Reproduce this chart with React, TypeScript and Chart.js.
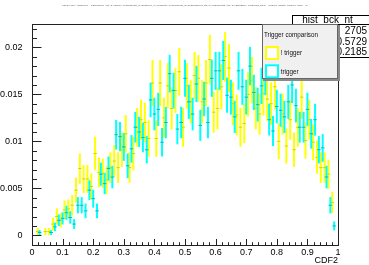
import React, { useEffect, useRef } from "react";
import { Chart, registerables } from "chart.js";

Chart.register(...registerables);

// ---------------- data ----------------
const BINS = 80;

// "! trigger" (yellow), bin centres (k + 0.5) / 80
const NOT_TRIGGER = [
  0, 0.0004, 0, 0.0004, 0.0004, 0.0012, 0.002, 0.0016, 0.0027, 0.0028,
  0.0032, 0.0048, 0.0071, 0.006, 0.006, 0.0052, 0.0087, 0.0067, 0.0066, 0.0059,
  0.0072, 0.0079, 0.0072, 0.0091, 0.0108, 0.0072, 0.0087, 0.0115, 0.0123, 0.012,
  0.0103, 0.0162, 0.0103, 0.0162, 0.0125, 0.0159, 0.0135, 0.0154, 0.0174, 0.0115,
  0.0159, 0.0142, 0.017, 0.0167, 0.0142, 0.0162, 0.0187, 0.0131, 0.0135, 0.0158,
  0.019, 0.0178, 0.014, 0.0128, 0.0115, 0.0119, 0.015, 0.0165, 0.0135, 0.0129,
  0.0151, 0.0145, 0.014, 0.0158, 0.01, 0.0129, 0.0095, 0.0123, 0.0091, 0.0115,
  0.0147, 0.0101, 0.0123, 0.0099, 0.0083, 0.0072, 0.0072, 0.0065, 0.0035, 0,
];

// "trigger" (cyan), drawn at k / 80
const TRIGGER = [
  0, 0, 0.0003, 0, 0, 0.0003, 0.0009, 0.0016, 0.0018, 0.0024,
  0.0019, 0.0012, 0.0032, 0.0032, 0.0026, 0.0048, 0.0039, 0.0026, 0.0065, 0.0055,
  0.0071, 0.0062, 0.0107, 0.0105, 0.0094, 0.0074, 0.0092, 0.0115, 0.011, 0.0104,
  0.0091, 0.0144, 0.0129, 0.0134, 0.0099, 0.012, 0.0172, 0.0154, 0.0113, 0.012,
  0.0167, 0.0142, 0.0129, 0.0161, 0.0117, 0.0145, 0.012, 0.0167, 0.0175, 0.0175,
  0.0186, 0.0149, 0.0147, 0.0126, 0.0175, 0.0158, 0.0147, 0.018, 0.0152, 0.0139,
  0.0159, 0.0169, 0.0123, 0.0111, 0.0137, 0.0133, 0.0126, 0.0142, 0.016, 0.0138,
  0.0115, 0.0115, 0.0134, 0.0108, 0.0123, 0.0091, 0.0093, 0.0062, 0.0032, 0.001,
];

// effective entries used for the Poisson error bars of the normalised histograms
const ENTRIES_NOT_TRIGGER = 2705;
const ENTRIES_TRIGGER = 4300;

const X_TICKS = [0, 0.1, 0.2, 0.3, 0.4, 0.5, 0.6, 0.7, 0.8, 0.9, 1];
const X_TICK_LABELS = ["0", "0.1", "0.2", "0.3", "0.4", "0.5", "0.6", "0.7", "0.8", "0.9", "1"];
const X_MINOR_STEP = 0.02;
const Y_TICKS = [0, 0.005, 0.01, 0.015, 0.02];
const Y_TICK_LABELS = ["0", "0.005", "0.01", "0.015", "0.02"];
const Y_MINOR_STEP = 0.001;
const Y_MIN = -0.00103;
const Y_MAX = 0.02248;

const X_TITLE = "CDF2";
const PLOT_TITLE =
  "CDF2 {(nJet>=2)&&(nLep==1)&&(abs(lep_eta)<2.4)&&(lep_pt>25)&&(met_pt>30)&&(mT_W>40)&&(jet1_pt>30)&&(jet2_pt>30)&&(abs(jet1_eta)<2.4)&&(abs(jet2_eta)<2.4)&&(nBtag>=1)&&(pass_filters==1)&&(evt_weight!=0)&&(run_good==1)}";

const STATS_NAME = "hist_bck_nt";
const STATS_LABELS = ["Entries", "Mean", "Std Dev"];
const STATS_VALUES = ["2705", "0.5729", "0.2185"];

const LEGEND_HEADER = "Trigger comparison";
const LEGEND_LABELS = ["! trigger", "trigger"];

const YELLOW = "#ffff00";
const CYAN = "#00ffff";
const FONT = "'Liberation Sans', Arial, Helvetica, sans-serif";

// ---------------- plugin ----------------
const rootPlugin = {
  id: "rootStyle",
  beforeDatasetDraw(chart: any, args: any) {
    const ds = chart.data.datasets[args.index];
    const ys = chart.scales.y;
    const { ctx, chartArea: a } = chart;
    ctx.save();
    ctx.beginPath();
    ctx.rect(a.left, a.top, a.right - a.left, a.bottom - a.top);
    ctx.clip();
    ctx.strokeStyle = ds.barColor;
    ctx.lineWidth = 2;
    args.meta.data.forEach((el: any, i: number) => {
      const raw = ds.data[i];
      if (raw.y == null) return;
      const top = ys.getPixelForValue(raw.y + raw.err);
      const bot = ys.getPixelForValue(raw.y - raw.err);
      ctx.beginPath();
      ctx.moveTo(el.x, top);
      ctx.lineTo(el.x, bot);
      ctx.stroke();
    });
    ctx.restore();
  },
  afterDatasetsDraw(chart: any) {
    const { ctx, chartArea: a } = chart;
    const xs = chart.scales.x;
    const ys = chart.scales.y;
    ctx.save();
    ctx.strokeStyle = "#222";
    ctx.lineWidth = 1;
    // frame
    ctx.strokeRect(Math.round(a.left) + 0.5, Math.round(a.top) + 0.5, Math.round(a.right - a.left), Math.round(a.bottom - a.top));
    // x ticks (inward)
    ctx.beginPath();
    const bottom = Math.round(a.bottom) + 0.5;
    for (let i = 0; i <= Math.round(1 / X_MINOR_STEP); i++) {
      const v = i * X_MINOR_STEP;
      const major = X_TICKS.some((t) => Math.abs(t - v) < 1e-9);
      const px = Math.round(xs.getPixelForValue(v)) + 0.5;
      ctx.moveTo(px, bottom);
      ctx.lineTo(px, bottom - (major ? 6.5 : 3.3));
    }
    // y ticks (inward)
    const left = Math.round(a.left) + 0.5;
    for (let i = -1; i <= 22; i++) {
      const v = i * Y_MINOR_STEP;
      if (v < Y_MIN || v > Y_MAX) continue;
      const major = Y_TICKS.some((t) => Math.abs(t - v) < 1e-9);
      const py = Math.round(ys.getPixelForValue(v)) + 0.5;
      ctx.moveTo(left, py);
      ctx.lineTo(left + (major ? 9 : 4.5), py);
    }
    ctx.stroke();
    ctx.restore();
  },
  afterDraw(chart: any) {
    const { ctx } = chart;
    ctx.save();
    // tiny plot title
    ctx.font = `2.4px ${FONT}`;
    ctx.fillStyle = "#555";
    ctx.textBaseline = "middle";
    const w = ctx.measureText(PLOT_TITLE).width;
    ctx.save();
    ctx.translate(62, 5.5);
    ctx.scale(246 / w, 1);
    ctx.fillText(PLOT_TITLE, 0, 0);
    ctx.restore();

    // stats box
    ctx.fillStyle = "#fff";
    ctx.fillRect(292, 15, 80, 43);
    ctx.strokeStyle = "#000";
    ctx.lineWidth = 1;
    ctx.strokeRect(292.5, 15.5, 80, 42);
    ctx.beginPath();
    ctx.moveTo(292, 24.5);
    ctx.lineTo(369, 24.5);
    ctx.stroke();
    ctx.fillStyle = "#000";
    ctx.font = `10px ${FONT}`;
    ctx.textAlign = "center";
    ctx.fillText(STATS_NAME, 327.5, 20);
    const rowsY = [31.7, 42.3, 52.7];
    STATS_LABELS.forEach((l, i) => {
      ctx.textAlign = "left";
      ctx.fillText(l, 295, rowsY[i]);
      ctx.textAlign = "right";
      ctx.fillText(STATS_VALUES[i], 367, rowsY[i]);
    });

    // legend
    ctx.fillStyle = "#8a8a8a";
    ctx.fillRect(263, 25, 77, 56);
    ctx.fillStyle = "#f0f0f0";
    ctx.fillRect(262, 24, 76, 55);
    ctx.strokeStyle = "#666";
    ctx.strokeRect(262.5, 24.5, 75, 54);
    ctx.fillStyle = "#111";
    ctx.font = `6.3px ${FONT}`;
    ctx.textAlign = "left";
    ctx.fillText(LEGEND_HEADER, 264, 35);
    const entryColors = [YELLOW, CYAN];
    const entryY = [53, 71.3];
    LEGEND_LABELS.forEach((l, i) => {
      ctx.fillStyle = "#fff";
      ctx.fillRect(266, entryY[i] - 6, 12, 12);
      ctx.strokeStyle = entryColors[i];
      ctx.lineWidth = 2;
      ctx.strokeRect(266, entryY[i] - 6, 12, 12);
      ctx.fillStyle = "#111";
      ctx.fillText(l, 280.7, entryY[i] + 0.5);
    });
    ctx.restore();
  },
};

function buildPoints(values: number[], entries: number, offset: number) {
  return values.map((v, k) => ({
    x: (k + offset) / BINS,
    y: v === 0 ? null : v,
    err: Math.sqrt(v / entries),
  }));
}

export default function App() {
  const ref = useRef<HTMLCanvasElement | null>(null);
  useEffect(() => {
    if (!ref.current) return;
    const chart = new Chart(ref.current, {
      type: "scatter",
      data: {
        datasets: [
          {
            label: LEGEND_LABELS[0],
            data: buildPoints(NOT_TRIGGER, ENTRIES_NOT_TRIGGER, 0.5) as any,
            barColor: YELLOW,
            order: 2,
            pointStyle: "line",
            pointRadius: 1.8,
            pointHoverRadius: 1.8,
            pointBorderWidth: 1,
            borderColor: "#d6d600",
            backgroundColor: "#d6d600",
          } as any,
          {
            label: LEGEND_LABELS[1],
            data: buildPoints(TRIGGER, ENTRIES_TRIGGER, 0) as any,
            barColor: CYAN,
            order: 1,
            pointStyle: "line",
            pointRadius: 1.8,
            pointHoverRadius: 1.8,
            pointBorderWidth: 1,
            borderColor: "#00bcbc",
            backgroundColor: "#00bcbc",
          } as any,
        ],
      },
      options: {
        animation: false,
        responsive: false,
        devicePixelRatio: 1,
        events: [],
        layout: { padding: { top: 24, right: 31, left: 0, bottom: 0 } },
        plugins: { legend: { display: false }, tooltip: { enabled: false }, title: { display: false } },
        scales: {
          x: {
            type: "linear",
            position: "bottom",
            min: 0,
            max: 1,
            grid: { display: false },
            border: { display: false },
            afterBuildTicks: (s: any) => {
              s.ticks = X_TICKS.map((v) => ({ value: v }));
            },
            afterFit: (s: any) => {
              s.height = 20;
            },
            ticks: {
              autoSkip: false,
              maxRotation: 0,
              padding: -5.5,
              color: "#000",
              font: { family: FONT, size: 9 },
              callback: (_v: any, i: number) => X_TICK_LABELS[i],
            },
            title: {
              display: true,
              text: X_TITLE,
              align: "end",
              color: "#000",
              font: { family: FONT, size: 9, lineHeight: 1 },
              padding: { top: 0, bottom: 0 },
            },
          },
          y: {
            type: "linear",
            position: "left",
            min: Y_MIN,
            max: Y_MAX,
            grid: { display: false },
            border: { display: false },
            afterBuildTicks: (s: any) => {
              s.ticks = Y_TICKS.map((v) => ({ value: v }));
            },
            afterFit: (s: any) => {
              s.width = 32;
            },
            ticks: {
              autoSkip: false,
              padding: 1.5,
              color: "#000",
              font: { family: FONT, size: 9 },
              callback: (_v: any, i: number) => Y_TICK_LABELS[i],
            },
          },
        },
      } as any,
      plugins: [rootPlugin as any],
    });
    return () => chart.destroy();
  }, []);
  return (
    <div style={{ position: "absolute", left: 0, top: 0, width: 369, height: 265, background: "#fff" }}>
      <canvas ref={ref} width={369} height={265} style={{ display: "block" }} />
    </div>
  );
}
